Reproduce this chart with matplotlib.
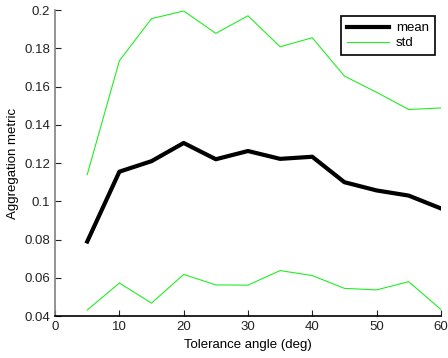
import matplotlib.pyplot as plt

plt.rcParams['font.family'] = ['Liberation Sans', 'DejaVu Sans']

angle = [5, 10, 15, 20, 25, 30, 35, 40, 45, 50, 55, 60]
mean = [0.079, 0.1155, 0.121, 0.1305, 0.122, 0.1263, 0.1222, 0.1233, 0.110, 0.1057, 0.103, 0.0963]
std_hi = [0.114, 0.1735, 0.1955, 0.1995, 0.1878, 0.197, 0.1808, 0.1855, 0.1655, 0.157, 0.148, 0.1488]
std_lo = [0.0432, 0.0573, 0.0468, 0.0618, 0.0563, 0.0562, 0.0638, 0.0612, 0.0545, 0.0537, 0.0580, 0.0435]

fig = plt.figure(figsize=(4.48, 3.58), dpi=100)
ax = fig.add_axes([0.123, 0.117, 0.861, 0.855])

ax.plot(angle, mean, color='black', linewidth=3, label='mean')
ax.plot(angle, std_hi, color='#22ee22', linewidth=0.8, label='std')
ax.plot(angle, std_lo, color='#22ee22', linewidth=0.8)

ax.set_xlim(0, 60)
ax.set_ylim(0.04, 0.2)
ax.set_xticks(range(0, 61, 10))
ax.set_yticks([0.04, 0.06, 0.08, 0.1, 0.12, 0.14, 0.16, 0.18, 0.2])
ax.set_yticklabels(['0.04', '0.06', '0.08', '0.1', '0.12', '0.14', '0.16', '0.18', '0.2'])
ax.tick_params(direction='in', labelsize=9.5, length=4, colors='#222222')
ax.spines['top'].set_visible(False)
ax.spines['right'].set_visible(False)
ax.spines['left'].set_color('#808080')
ax.spines['left'].set_linewidth(1.2)
ax.spines['bottom'].set_linewidth(1.2)
ax.set_xlabel('Tolerance angle (deg)', fontsize=9.5, labelpad=4)
ax.set_ylabel('Aggregation metric', fontsize=9.5, labelpad=4)

leg = ax.legend(loc='upper right', bbox_to_anchor=(0.984, 0.98), borderaxespad=0,
                fancybox=False, edgecolor='black', fontsize=9.5, handlelength=3.2,
                handletextpad=0.5, borderpad=0.45, labelspacing=0.2, framealpha=1)
leg.get_frame().set_linewidth(1.2)

fig.savefig('out.png', dpi=100)
